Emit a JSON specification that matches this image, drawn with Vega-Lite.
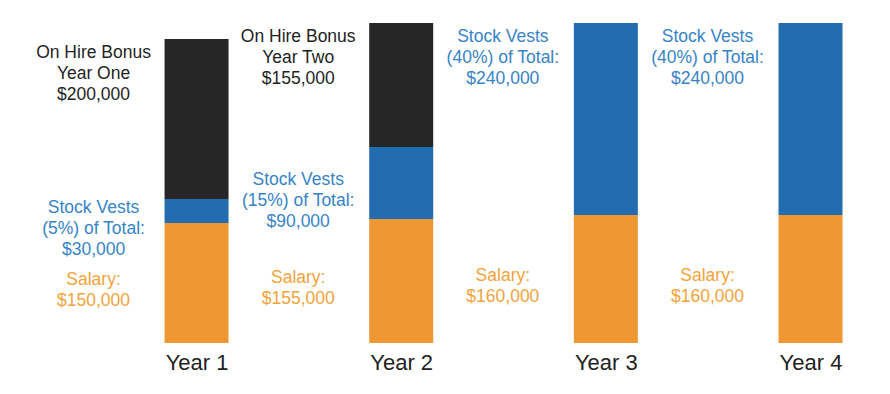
{
  "$schema": "https://vega.github.io/schema/vega-lite/v6.json",
  "width": 890,
  "height": 343,
  "padding": 0,
  "background": "white",
  "config": {"view": {"stroke": null}, "font": "Liberation Sans"},
  "data": {
    "values": [
      {"year": 1, "series": "Salary", "seg": 1, "value": 150000, "label": "Salary:\n$150,000"},
      {"year": 1, "series": "Stock", "seg": 2, "value": 30000, "label": "Stock Vests\n(5%) of Total:\n$30,000"},
      {"year": 1, "series": "Bonus", "seg": 3, "value": 200000, "label": "On Hire Bonus\nYear One\n$200,000"},
      {"year": 2, "series": "Salary", "seg": 1, "value": 155000, "label": "Salary:\n$155,000"},
      {"year": 2, "series": "Stock", "seg": 2, "value": 90000, "label": "Stock Vests\n(15%) of Total:\n$90,000"},
      {"year": 2, "series": "Bonus", "seg": 3, "value": 155000, "label": "On Hire Bonus\nYear Two\n$155,000"},
      {"year": 3, "series": "Salary", "seg": 1, "value": 160000, "label": "Salary:\n$160,000"},
      {"year": 3, "series": "Stock", "seg": 2, "value": 240000, "label": "Stock Vests\n(40%) of Total:\n$240,000"},
      {"year": 4, "series": "Salary", "seg": 1, "value": 160000, "label": "Salary:\n$160,000"},
      {"year": 4, "series": "Stock", "seg": 2, "value": 240000, "label": "Stock Vests\n(40%) of Total:\n$240,000"}
    ]
  },
  "encoding": {
    "x": {
      "field": "year", "type": "quantitative",
      "scale": {"domain": [0.064, 4.364], "nice": false, "zero": false},
      "axis": {
        "values": [1, 2, 3, 4], "labelExpr": "'Year ' + datum.value",
        "domain": false, "ticks": false, "grid": false, "title": null,
        "labelFontSize": 22, "labelPadding": 9, "labelColor": "#222222",
        "labelFont": "Liberation Sans", "labelFlush": false
      }
    },
    "order": {"field": "seg", "type": "quantitative"}
  },
  "layer": [
    {
      "mark": {"type": "bar", "width": 64},
      "encoding": {
        "y": {"field": "value", "type": "quantitative", "stack": "zero",
              "scale": {"domain": [0, 428750], "nice": false}, "axis": null},
        "color": {
          "field": "series", "type": "nominal",
          "scale": {"domain": ["Salary", "Stock", "Bonus"], "range": ["#ef9733", "#226cb0", "#262626"]},
          "legend": null
        }
      }
    },
    {
      "mark": {"type": "text", "lineBreak": "\n", "lineHeight": 21, "fontSize": 17.5, "align": "center", "baseline": "middle", "dx": -103, "dy": -3, "font": "Liberation Sans"},
      "encoding": {
        "y": {"field": "value", "type": "quantitative", "stack": "zero", "bandPosition": 0.5},
        "detail": {"field": "series", "type": "nominal"},
        "fill": {
          "field": "series", "type": "nominal",
          "scale": {"domain": ["Salary", "Stock", "Bonus"], "range": ["#f2a33c", "#3784c6", "#1f1f1f"]},
          "legend": null
        },
        "text": {"condition": {"test": "datum.series == 'Salary' || (datum.series == 'Stock' && datum.year <= 2)", "field": "label"}, "value": ""}
      }
    },
    {
      "mark": {"type": "text", "lineBreak": "\n", "lineHeight": 21, "fontSize": 17.5, "align": "center", "baseline": "top", "dx": -103, "dy": 5, "font": "Liberation Sans"},
      "encoding": {
        "y": {"field": "value", "type": "quantitative", "stack": "zero", "bandPosition": 1},
        "detail": {"field": "series", "type": "nominal"},
        "fill": {
          "field": "series", "type": "nominal",
          "scale": {"domain": ["Salary", "Stock", "Bonus"], "range": ["#f2a33c", "#3784c6", "#1f1f1f"]},
          "legend": null
        },
        "text": {"condition": {"test": "datum.series == 'Bonus' || (datum.series == 'Stock' && datum.year >= 3)", "field": "label"}, "value": ""}
      }
    }
  ],
  "resolve": {"scale": {"fill": "shared", "color": "independent"}}
}
